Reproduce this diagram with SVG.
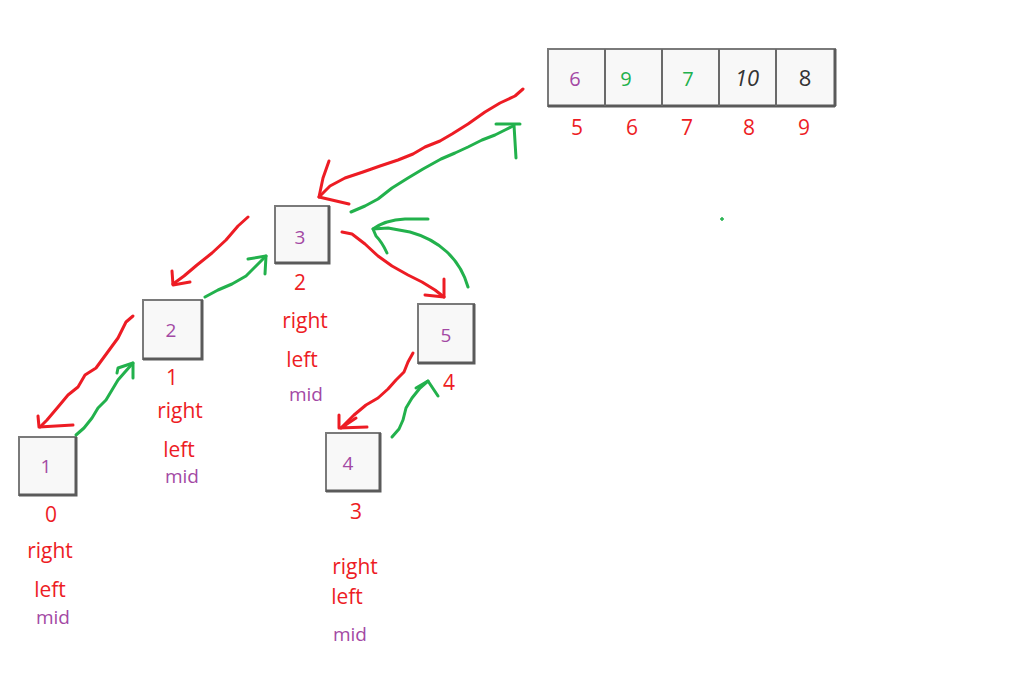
<svg xmlns="http://www.w3.org/2000/svg" width="1021" height="677" viewBox="0 0 1021 677">
<style>
.box{fill:#f8f8f8;stroke:#7a7a7a;stroke-width:2}
.sh{stroke:#5a5a5a;stroke-width:3;fill:none}
.v{font-family:"Open Sans","Noto Sans",sans-serif;font-size:19px;fill:#a349a4;text-anchor:middle}
.idx{font-family:"Open Sans","Noto Sans",sans-serif;font-size:21px;fill:#ed1c24;text-anchor:middle}
.lb{font-family:"Open Sans","Noto Sans",sans-serif;font-size:21px;fill:#ed1c24;text-anchor:middle}
.mid{font-family:"Open Sans","Noto Sans",sans-serif;font-size:19px;fill:#a349a4;text-anchor:middle}
.r{fill:none;stroke:#ed1c24;stroke-width:3;stroke-linecap:round;stroke-linejoin:round}
.g{fill:none;stroke:#22b14c;stroke-width:3;stroke-linecap:round;stroke-linejoin:round}
</style>
<rect width="1021" height="677" fill="#ffffff"/>

<g id="array">
<rect x="548" y="49" width="287" height="57" class="box"/>
<line x1="548" y1="106" x2="835" y2="106" class="sh"/>
<line x1="835" y1="49" x2="835" y2="106" class="sh"/>
<line x1="605" y1="49" x2="605" y2="106" stroke="#6a6a6a" stroke-width="2"/>
<line x1="662" y1="49" x2="662" y2="106" stroke="#6a6a6a" stroke-width="2"/>
<line x1="719" y1="49" x2="719" y2="106" stroke="#6a6a6a" stroke-width="2"/>
<line x1="776" y1="49" x2="776" y2="106" stroke="#6a6a6a" stroke-width="2"/>
<text x="575" y="86" class="v" style="font-size:20px">6</text>
<text x="626" y="86" class="v" style="font-size:20px;fill:#22b14c">9</text>
<text x="688" y="86" class="v" style="font-size:20px;fill:#22b14c">7</text>
<text x="747" y="86" class="v" style="font-size:22px;fill:#333;font-style:italic">10</text>
<text x="805" y="86" class="v" style="font-size:22px;fill:#333">8</text>
<text x="577" y="135" class="idx">5</text>
<text x="632" y="135" class="idx">6</text>
<text x="687" y="135" class="idx">7</text>
<text x="749" y="135" class="idx">8</text>
<text x="804" y="135" class="idx">9</text>
</g>

<g id="node3">
<rect x="275" y="206" width="54" height="57" class="box"/>
<path d="M275 263 H329 V206" class="sh"/>
<text x="300" y="244" class="v">3</text>
<text x="300" y="290" class="idx">2</text>
<text x="305" y="328" class="lb">right</text>
<text x="302" y="367" class="lb">left</text>
<text x="306" y="401" class="mid">mid</text>
</g>

<g id="node2">
<rect x="143" y="300" width="59" height="59" class="box"/>
<path d="M143 359 H202 V300" class="sh"/>
<text x="171" y="337" class="v">2</text>
<text x="172" y="385" class="idx">1</text>
<text x="180" y="418" class="lb">right</text>
<text x="179" y="457" class="lb">left</text>
<text x="182" y="483" class="mid">mid</text>
</g>

<g id="node1">
<rect x="19" y="437" width="57" height="58" class="box"/>
<path d="M19 495 H76 V437" class="sh"/>
<text x="46" y="473" class="v">1</text>
<text x="51" y="522" class="idx">0</text>
<text x="50" y="558" class="lb">right</text>
<text x="50" y="597" class="lb">left</text>
<text x="53" y="624" class="mid">mid</text>
</g>

<g id="node5">
<rect x="418" y="304" width="56" height="59" class="box"/>
<path d="M418 363 H474 V304" class="sh"/>
<text x="446" y="342" class="v">5</text>
<text x="449" y="390" class="idx">4</text>
</g>

<g id="node4">
<rect x="326" y="433" width="54" height="58" class="box"/>
<path d="M326 491 H380 V433" class="sh"/>
<text x="348" y="470" class="v">4</text>
<text x="356" y="519" class="idx">3</text>
<text x="355" y="574" class="lb">right</text>
<text x="347" y="604" class="lb">left</text>
<text x="350" y="641" class="mid">mid</text>
</g>

<g id="connectors">
<path d="M523 89 L515 96 L500 103 L485 112 L468 124 L452 134 L440 141 L425 147 L413 154 L398 160 L380 166 L363 172 L345 178 L330 186 L319 197" class="r"/>
<path d="M329 161 L323 178 L319 197 L349 204" class="r"/>
<path d="M351 212 L365 206 L378 199 L392 188 L408 178 L423 169 L441 159 L455 153 L468 147 L482 140 L495 135 L505 130 L513 126" class="g"/>
<path d="M496 124 L520 124 M514 125 L516 158" class="g"/>
<path d="M248 217 L238 226 L226 240 L212 253 L197 265 L184 276 L173 284" class="r"/>
<path d="M172 271 L173 285 L190 282" class="r"/>
<path d="M205 297 L218 290 L232 284 L246 276 L256 266 L266 256" class="g"/>
<path d="M248 259 L266 256 L265 274" class="g"/>
<path d="M342 232 L352 234 L365 244 L378 256 L392 266 L408 275 L422 282 L435 290 L444 297" class="r"/>
<path d="M444 279 L444 297 L425 295" class="r"/>
<path d="M468 287 Q462 266 447 252 Q432 238 410 232 L388 228 L373 229" class="g"/>
<path d="M387 253 Q382 242 376 236 L373 229 Q385 220 405 219 L428 219" class="g"/>
<path d="M133 316 L126 322 L118 338 L107 353 L96 368 L85 375 L78 387 L68 395 L58 407 L47 420 L40 427" class="r"/>
<path d="M38 416 L39 427 L73 425" class="r"/>
<path d="M76 435 L84 428 L92 418 L98 408 L106 400 L112 390 L118 380 L125 372 L133 363" class="g"/>
<path d="M117 373 L118 368 L133 363 L133 378" class="g"/>
<path d="M413 353 L408 362 L404 372 L396 380 L388 389 L378 398 L366 405 L354 415 L344 425 L341 428" class="r"/>
<path d="M339 415 L339 428 L367 427 M341 428 L356 418" class="r"/>
<path d="M392 437 L399 429 L403 420 L406 408 L412 398 L420 388 L428 381" class="g"/>
<path d="M416 388 L428 381 L438 396" class="g"/>
<path d="M720 219 H724 M722 217 V221" stroke="#22b14c" stroke-width="1.5"/>
</g>
</svg>
